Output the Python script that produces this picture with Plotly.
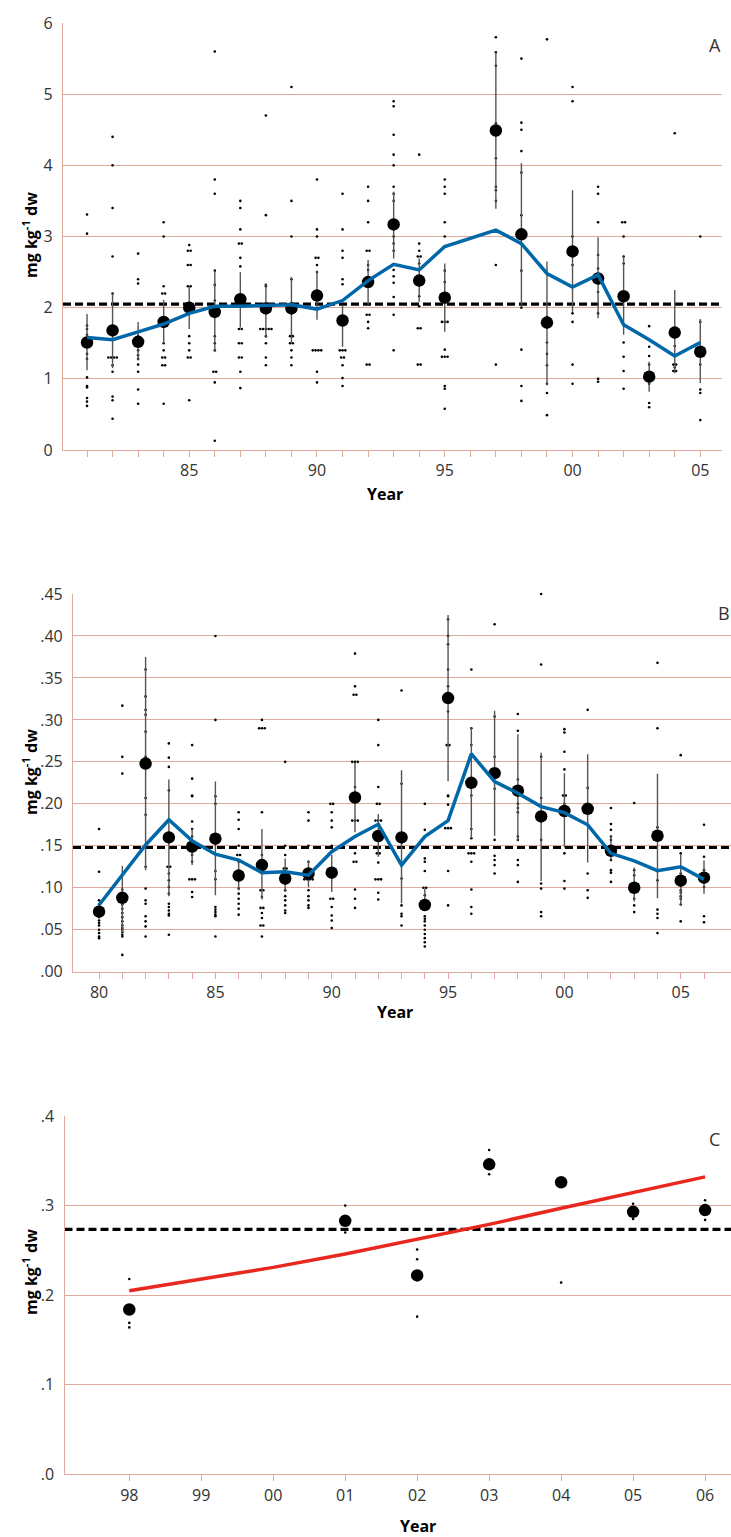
import plotly.graph_objects as go

# ---------------- DATA ----------------
# Panel A
a_years = [1981, 1982, 1983, 1984, 1985, 1986, 1987, 1988, 1989, 1990, 1991, 1992,
           1993, 1994, 1995, 1997, 1998, 1999, 2000, 2001, 2002, 2003, 2004, 2005]
a_mean = [1.51, 1.68, 1.52, 1.80, 2.00, 1.94, 2.12, 1.99, 1.99, 2.17, 1.82, 2.36,
          3.17, 2.38, 2.14, 4.49, 3.03, 1.79, 2.79, 2.41, 2.16, 1.03, 1.65, 1.38]
a_upper = [1.91, 2.20, 1.80, 2.11, 2.29, 2.52, 2.50, 2.33, 2.43, 2.52, 2.04, 2.67,
           3.63, 2.69, 2.62, 5.59, 4.03, 2.65, 3.65, 2.99, 2.72, 1.24, 2.25, 1.84]
a_lower = [1.12, 1.15, 1.26, 1.50, 1.70, 1.38, 1.72, 1.58, 1.51, 1.83, 1.45, 2.04,
           2.69, 2.08, 1.66, 3.39, 2.04, 0.91, 1.94, 1.85, 1.62, 0.82, 1.08, 0.94]
a_smooth = [1.58, 1.55, 1.66, 1.77, 1.92, 2.02, 2.02, 2.03, 2.04, 1.98, 2.10, 2.38,
            2.61, 2.53, 2.86, 3.09, 2.90, 2.48, 2.29, 2.46, 1.76, 1.55, 1.32, 1.51]
a_ref = 2.05
a_obs = {
    1981: [3.31, 3.04, 1.75, 1.70, 1.62, 1.35, 1.28, 1.02, 0.90, 0.88, 0.73, 0.68, 0.62],
    1982: [4.40, 4.00, 3.40, 2.72, 2.20, 1.30, 1.30, 1.30, 1.30, 1.19, 1.10, 0.75, 0.70, 0.44],
    1983: [2.76, 2.40, 2.34, 1.60, 1.40, 1.33, 1.28, 1.20, 1.10, 0.85, 0.65],
    1984: [3.20, 3.00, 2.30, 2.20, 2.20, 1.76, 1.50, 1.40, 1.30, 1.30, 1.19, 1.19, 0.65],
    1985: [2.88, 2.80, 2.80, 2.60, 2.60, 2.30, 2.30, 1.60, 1.50, 1.40, 1.30, 1.30, 0.70],
    1986: [5.60, 3.80, 3.60, 2.52, 2.32, 2.10, 1.60, 1.50, 1.40, 1.10, 1.10, 0.95, 0.13],
    1987: [3.50, 3.40, 3.10, 2.90, 2.90, 2.70, 2.58, 1.70, 1.70, 1.50, 1.50, 1.30, 1.30, 1.10, 0.87],
    1988: [4.70, 3.30, 2.32, 2.30, 1.70, 1.70, 1.70, 1.70, 1.70, 1.60, 1.50, 1.30, 1.19],
    1989: [5.10, 3.50, 3.00, 2.40, 1.60, 1.60, 1.50, 1.50, 1.40, 1.30, 1.19],
    1990: [3.80, 3.10, 3.00, 2.70, 2.70, 2.60, 2.50, 1.40, 1.40, 1.40, 1.40, 1.10, 0.95],
    1991: [3.60, 3.10, 2.80, 2.70, 2.40, 2.33, 1.40, 1.40, 1.40, 1.30, 1.30, 1.19, 1.01, 0.90],
    1992: [3.70, 3.50, 3.20, 2.80, 2.80, 2.60, 2.53, 2.36, 1.90, 1.90, 1.80, 1.71, 1.20, 1.20],
    1993: [4.90, 4.83, 4.43, 4.15, 4.00, 3.70, 3.60, 3.50, 3.00, 2.90, 2.80, 2.53, 2.44, 2.35, 2.15, 1.90, 1.40],
    1994: [4.15, 2.90, 2.80, 2.72, 2.72, 2.62, 2.16, 2.02, 1.71, 1.71, 1.20, 1.20],
    1995: [3.80, 3.70, 3.60, 3.20, 3.00, 2.52, 2.36, 1.80, 1.80, 1.80, 1.41, 1.31, 1.31, 1.31, 0.90, 0.86, 0.58],
    1997: [5.80, 5.59, 5.40, 4.59, 4.50, 4.10, 3.70, 3.65, 3.50, 2.60, 1.20],
    1998: [5.50, 4.60, 4.50, 4.20, 3.90, 3.30, 2.52, 2.00, 1.41, 0.90, 0.69],
    1999: [5.77, 1.87, 1.72, 1.51, 1.35, 1.19, 0.93, 0.80, 0.49],
    2000: [5.10, 4.90, 3.00, 2.80, 2.60, 1.92, 1.80, 1.20, 0.93],
    2001: [3.70, 3.60, 3.20, 2.74, 2.55, 2.41, 2.22, 1.92, 1.00, 0.96],
    2002: [3.20, 3.20, 3.00, 2.72, 2.62, 1.51, 1.31, 1.11, 0.86],
    2003: [1.74, 1.45, 1.32, 1.20, 1.00, 0.93, 0.66, 0.60],
    2004: [4.45, 1.65, 1.46, 1.20, 1.20, 1.16, 1.11, 1.11],
    2005: [3.00, 2.05, 1.80, 1.20, 0.85, 0.80, 0.42],
}

# Panel B
b_years = list(range(1980, 2007))
b_mean = [0.0715, 0.088, 0.248, 0.160, 0.149, 0.1585, 0.1145, 0.127, 0.111, 0.117, 0.118,
          0.2075, 0.1617, 0.160, 0.0795, 0.326, 0.225, 0.2365, 0.2157, 0.185, 0.1915,
          0.194, 0.144, 0.100, 0.162, 0.1085, 0.112]
b_upper = [0.081, 0.126, 0.375, 0.229, 0.170, 0.2265, 0.131, 0.170, 0.135, 0.132, 0.139,
           0.249, 0.188, 0.240, 0.099, 0.425, 0.291, 0.311, 0.283, 0.261, 0.2365,
           0.259, 0.163, 0.124, 0.2357, 0.1405, 0.1325]
b_lower = [0.063, 0.046, 0.121, 0.090, 0.127, 0.091, 0.097, 0.086, 0.095, 0.101, 0.095,
           0.166, 0.137, 0.0815, 0.0755, 0.227, 0.159, 0.162, 0.156, 0.108, 0.148,
           0.130, 0.133, 0.0835, 0.0875, 0.0795, 0.093]
b_smooth = [0.0795, 0.115, 0.151, 0.181, 0.156, 0.140, 0.133, 0.118, 0.119, 0.115, 0.143,
            0.161, 0.1757, 0.127, 0.161, 0.180, 0.2595, 0.2265, 0.2126, 0.1967, 0.1895,
            0.175, 0.141, 0.132, 0.1204, 0.125, 0.110]
b_ref = 0.148
b_obs = {
    1980: [0.170, 0.119, 0.085, 0.080, 0.075, 0.070, 0.066, 0.061, 0.058, 0.055, 0.050, 0.046, 0.042, 0.040],
    1981: [0.317, 0.256, 0.236, 0.098, 0.090, 0.085, 0.080, 0.075, 0.070, 0.065, 0.060, 0.055, 0.052,
           0.050, 0.047, 0.044, 0.042, 0.020],
    1982: [0.360, 0.328, 0.312, 0.306, 0.286, 0.256, 0.207, 0.187, 0.125, 0.099, 0.085, 0.081, 0.066,
           0.060, 0.054, 0.042],
    1983: [0.272, 0.255, 0.244, 0.216, 0.125, 0.125, 0.117, 0.109, 0.101, 0.093, 0.081, 0.077, 0.073,
           0.069, 0.067, 0.044],
    1984: [0.270, 0.230, 0.210, 0.209, 0.179, 0.170, 0.161, 0.139, 0.131, 0.110, 0.110, 0.110, 0.095, 0.089],
    1985: [0.400, 0.300, 0.209, 0.200, 0.120, 0.110, 0.077, 0.074, 0.071, 0.068, 0.066, 0.042],
    1986: [0.190, 0.181, 0.170, 0.150, 0.139, 0.139, 0.131, 0.117, 0.110, 0.099, 0.093, 0.087, 0.081,
           0.075, 0.068],
    1987: [0.300, 0.290, 0.290, 0.290, 0.190, 0.139, 0.097, 0.097, 0.089, 0.076, 0.076, 0.070, 0.064,
           0.055, 0.055, 0.042],
    1988: [0.250, 0.150, 0.139, 0.123, 0.123, 0.105, 0.097, 0.090, 0.085, 0.079, 0.073, 0.070],
    1989: [0.190, 0.180, 0.150, 0.131, 0.110, 0.110, 0.110, 0.110, 0.097, 0.090, 0.085, 0.079, 0.076],
    1990: [0.200, 0.200, 0.190, 0.180, 0.172, 0.150, 0.120, 0.087, 0.087, 0.077, 0.067, 0.061, 0.052],
    1991: [0.379, 0.340, 0.330, 0.330, 0.250, 0.250, 0.250, 0.220, 0.180, 0.180, 0.180, 0.141, 0.131,
           0.131, 0.098, 0.087, 0.076],
    1992: [0.300, 0.270, 0.220, 0.200, 0.200, 0.180, 0.180, 0.180, 0.157, 0.147, 0.141, 0.141, 0.130,
           0.110, 0.110, 0.110, 0.094, 0.086],
    1993: [0.464, 0.335, 0.224, 0.111, 0.079, 0.069, 0.066, 0.055],
    1994: [0.200, 0.169, 0.135, 0.131, 0.120, 0.100, 0.100, 0.091, 0.085, 0.066, 0.063, 0.060, 0.055,
           0.050, 0.045, 0.040, 0.035, 0.030],
    1995: [0.470, 0.420, 0.400, 0.390, 0.360, 0.340, 0.310, 0.270, 0.270, 0.210, 0.209, 0.199, 0.171,
           0.171, 0.171, 0.120, 0.079],
    1996: [0.360, 0.290, 0.270, 0.210, 0.170, 0.159, 0.141, 0.141, 0.141, 0.131, 0.098, 0.077, 0.069],
    1997: [0.481, 0.414, 0.304, 0.256, 0.218, 0.157, 0.138, 0.133, 0.127, 0.117],
    1998: [0.307, 0.287, 0.229, 0.200, 0.195, 0.190, 0.161, 0.157, 0.133, 0.127, 0.107],
    1999: [0.450, 0.366, 0.256, 0.207, 0.157, 0.105, 0.099, 0.071, 0.066],
    2000: [0.289, 0.285, 0.262, 0.241, 0.210, 0.210, 0.200, 0.141, 0.108, 0.099],
    2001: [0.451, 0.312, 0.219, 0.117, 0.097, 0.088],
    2002: [0.195, 0.176, 0.169, 0.161, 0.157, 0.147, 0.133, 0.121, 0.118, 0.107],
    2003: [0.201, 0.121, 0.115, 0.103, 0.095, 0.087, 0.079, 0.071],
    2004: [0.368, 0.290, 0.172, 0.109, 0.074, 0.069, 0.064, 0.046],
    2005: [0.258, 0.141, 0.117, 0.097, 0.094, 0.090, 0.087, 0.080, 0.060],
    2006: [0.175, 0.137, 0.121, 0.117, 0.113, 0.109, 0.101, 0.066, 0.059],
}

# Panel C
c_years = [1998, 2001, 2002, 2003, 2004, 2005, 2006]
c_mean = [0.184, 0.283, 0.222, 0.346, 0.326, 0.293, 0.295]
c_fit_years = [1998, 1999, 2000, 2001, 2002, 2003, 2004, 2005, 2006]
c_fit = [0.205, 0.218, 0.231, 0.246, 0.262, 0.279, 0.297, 0.314, 0.332]
c_ref = 0.2734
c_obs = {
    1998: [0.218, 0.169, 0.164],
    2001: [0.300, 0.270],
    2002: [0.251, 0.240, 0.176],
    2003: [0.362, 0.335],
    2004: [0.214],
    2005: [0.302, 0.285],
    2006: [0.306, 0.284],
}

# ---------------- STYLE / LAYOUT ----------------
W, H = 731, 1537
SALMON = "#DDAA9C"
BLUE = "#0067A9"
RED = "#E8281E"
FONT = "Open Sans"
TICKC = "#333333"


def px_x(p):
    return p / W


def px_y(p):
    return 1 - p / H


def flatten(obs, spacing):
    xs, ys = [], []
    for yr, vals in obs.items():
        counts = {}
        for v in vals:
            counts[v] = counts.get(v, 0) + 1
        seen = {}
        for v in vals:
            n = counts[v]
            k = seen.get(v, 0)
            seen[v] = k + 1
            xs.append(yr + (k - (n - 1) / 2) * spacing)
            ys.append(v)
    return xs, ys


fig = go.Figure()

panels = [
    dict(ax="", years=a_years, mean=a_mean, up=a_upper, lo=a_lower, line=a_smooth,
         line_x=a_years, line_color=BLUE, ref=a_ref, obs=a_obs, spacing=0.11),
    dict(ax="2", years=b_years, mean=b_mean, up=b_upper, lo=b_lower, line=b_smooth,
         line_x=b_years, line_color=BLUE, ref=b_ref, obs=b_obs, spacing=0.12),
    dict(ax="3", years=c_years, mean=c_mean, up=None, lo=None, line=c_fit,
         line_x=c_fit_years, line_color=RED, ref=c_ref, obs=c_obs, spacing=0.04),
]

for p in panels:
    xa, ya = "x" + p["ax"], "y" + p["ax"]
    ox, oy = flatten(p["obs"], p["spacing"])
    fig.add_trace(go.Scatter(x=ox, y=oy, mode="markers", xaxis=xa, yaxis=ya,
                             marker=dict(size=2.6, color="black"), cliponaxis=False,
                             showlegend=False, hoverinfo="skip"))
    err = None
    if p["up"] is not None:
        err = dict(type="data", symmetric=False,
                   array=[u - m for u, m in zip(p["up"], p["mean"])],
                   arrayminus=[m - l for m, l in zip(p["mean"], p["lo"])],
                   color="#555555", thickness=1.4, width=0)
    fig.add_trace(go.Scatter(x=p["years"], y=p["mean"], mode="markers", xaxis=xa, yaxis=ya,
                             marker=dict(size=12.5, color="black"), error_y=err,
                             cliponaxis=False, showlegend=False))
    fig.add_trace(go.Scatter(x=p["line_x"], y=p["line"], mode="lines", xaxis=xa, yaxis=ya,
                             line=dict(color=p["line_color"], width=3.5),
                             showlegend=False))
    xref = xa + " domain"
    fig.add_shape(type="line", xref=xref, yref=ya, x0=0, x1=1, y0=p["ref"], y1=p["ref"],
                  line=dict(color="black", width=3.2, dash="8px,4px"), layer="below")

common_x = dict(showgrid=False, zeroline=False, showline=True, linecolor=SALMON, linewidth=1.2,
                ticks="outside", ticklen=6, tickcolor=SALMON, tickwidth=1, automargin=False,
                tickfont=dict(family=FONT, size=16, color=TICKC), tickmode="array")
common_y = dict(showgrid=True, gridcolor=SALMON, gridwidth=1.1, zeroline=False, showline=True,
                linecolor=SALMON, linewidth=1.2, ticks="", automargin=False,
                tickfont=dict(family=FONT, size=16, color=TICKC), tickmode="array",
                ticklabelstandoff=6)

a_ticks = list(range(1981, 2006))
b_ticks = list(range(1980, 2007))
c_ticks = list(range(1998, 2007))


def lab(y, every):
    return f"{y % 100:02d}" if y % every == 0 else ""


fig.update_layout(
    template="none",
    width=W, height=H, margin=dict(l=0, r=0, t=0, b=0, pad=0), autosize=False,
    paper_bgcolor="white", plot_bgcolor="white",
    xaxis=dict(common_x, domain=[px_x(63), px_x(722)], range=[1980.06, 2005.85],
               tickvals=a_ticks, ticktext=[lab(y, 5) for y in a_ticks], anchor="y"),
    yaxis=dict(common_y, domain=[px_y(450), px_y(23)], range=[0, 6],
               tickvals=[0, 1, 2, 3, 4, 5, 6], ticktext=["0", "1", "2", "3", "4", "5", "6"],
               anchor="x"),
    xaxis2=dict(common_x, domain=[px_x(73), 1.0], range=[1978.88, 2007.16],
                tickvals=b_ticks, ticktext=[lab(y, 5) for y in b_ticks], anchor="y2"),
    yaxis2=dict(common_y, domain=[px_y(971.7), px_y(594)], range=[0, 0.45],
                tickvals=[0, 0.05, 0.10, 0.15, 0.20, 0.25, 0.30, 0.35, 0.40, 0.45],
                ticktext=[".00", ".05", ".10", ".15", ".20", ".25", ".30", ".35", ".40", ".45"],
                anchor="x2"),
    xaxis3=dict(common_x, domain=[px_x(64.5), 1.0], range=[1997.1, 2006.36],
                tickvals=c_ticks, ticktext=[lab(y, 1) for y in c_ticks], anchor="y3"),
    yaxis3=dict(common_y, domain=[px_y(1474.3), px_y(1116)], range=[0, 0.4],
                tickvals=[0, 0.1, 0.2, 0.3, 0.4], ticktext=[".0", ".1", ".2", ".3", ".4"],
                anchor="x3"),
)

ytitle = "<b>mg kg<sup>-1</sup> dw</b>"
ann = []
for (x, y) in [(30, 235), (30, 772), (30, 1272)]:
    ann.append(dict(text=ytitle, x=px_x(x), y=px_y(y), xref="paper", yref="paper",
                    xanchor="center", yanchor="middle", textangle=-90, showarrow=False,
                    font=dict(family=FONT, size=16, color="black")))
for (x, y) in [(385, 494), (395, 1012), (418, 1526)]:
    ann.append(dict(text="<b>Year</b>", x=px_x(x), y=px_y(y), xref="paper", yref="paper",
                    xanchor="center", yanchor="middle", showarrow=False,
                    font=dict(family=FONT, size=16, color="black")))
for (t, x, y) in [("A", 715, 45), ("B", 724, 613), ("C", 714, 1139)]:
    ann.append(dict(text=t, x=px_x(x), y=px_y(y), xref="paper", yref="paper",
                    xanchor="center", yanchor="middle", showarrow=False,
                    font=dict(family=FONT, size=18, color=TICKC)))
fig.update_layout(annotations=ann)

fig.write_html(
    "out.html",
    config={"displayModeBar": False},
    post_script="document.body.style.margin='0';document.body.style.overflow='hidden';",
)
